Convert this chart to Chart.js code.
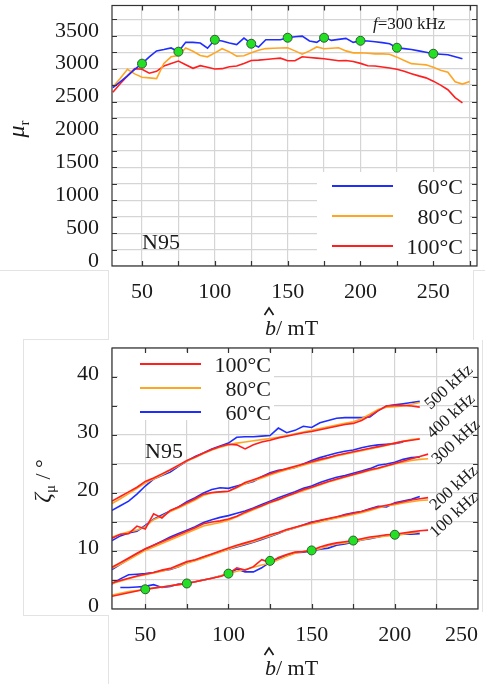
<!DOCTYPE html>
<html>
<head>
<meta charset="utf-8">
<title>N95 permeability and loss angle</title>
<script src="https://cdn.jsdelivr.net/npm/chart.js@4.4.1/dist/chart.umd.min.js"></script>
<style>
  html, body { margin: 0; padding: 0; background: #fff; }
  #page { position: relative; width: 485px; height: 684px; overflow: hidden; }
  .panel { position: absolute; left: 0; width: 485px; }
  .rule { position: absolute; background: #e3e3e3; }
</style>
</head>
<body>
<div id="page">
  <div class="panel" style="top:0;height:340px"><canvas id="muChart"></canvas></div>
  <div class="panel" style="top:340px;height:344px"><canvas id="zetaChart"></canvas></div>
  <!-- faint panel borders left over from the source figure -->
  <div class="rule" style="left:0;top:270px;width:108px;height:1px"></div>
  <div class="rule" style="left:108px;top:270px;width:1px;height:70px"></div>
  <div class="rule" style="left:473px;top:270px;width:12px;height:1px"></div>
  <div class="rule" style="left:473px;top:270px;width:1px;height:70px"></div>
  <div class="rule" style="left:23px;top:339px;width:85px;height:1px"></div>
  <div class="rule" style="left:23px;top:339px;width:1px;height:276px"></div>
  <div class="rule" style="left:23px;top:615px;width:85px;height:1px"></div>
  <div class="rule" style="left:108px;top:615px;width:1px;height:69px"></div>
  <div class="rule" style="left:482px;top:340px;width:1px;height:272px"></div>
</div>
<script>
// ---- Top panel: relative permeability vs peak flux density (f = 300 kHz)
const bTop = [30, 35, 40, 45, 50, 55, 60, 65, 70, 75, 80, 85, 90, 95, 100, 105, 110, 115, 120, 125,
              130, 135, 140, 145, 150, 155, 160, 165, 170, 175, 180, 185, 190, 195, 200, 205, 210, 215, 220, 225,
              230, 235, 240, 245, 250, 255, 260, 265, 270, 275];
const mu60 = [2710, 2800, 2890, 2990, 3076, 3180, 3270, 3290, 3315, 3258, 3400, 3400, 3390, 3310, 3439, 3420, 3390, 3365, 3465, 3380,
              3330, 3440, 3440, 3440, 3470, 3485, 3495, 3420, 3400, 3480, 3430, 3445, 3460, 3400, 3424, 3420, 3410, 3395, 3378, 3318,
              3305, 3290, 3270, 3250, 3227, 3220, 3212, 3180, 3150, null];
const mu80 = [2720, 2850, 2990, 2920, 2870, 2860, 2848, 3080, 3180, 3200, 3315, 3265, 3200, 3180, 3240, 3303, 3255, 3190, 3195, 3240,
              3280, 3305, 3310, 3315, 3318, 3270, 3220, 3270, 3330, 3303, 3310, 3318, 3270, 3240, 3242, 3235, 3225, 3225, 3220, 3175,
              3125, 3076, 3068, 3058, 3020, 2975, 2945, 2800, 2765, 2805];
const mu100 = [2640, 2770, 2890, 3000, 2990, 2930, 2960, 3040, 3080, 3115, 3060, 3005, 3045, 3020, 2995, 3000, 3030, 3040, 3080, 3125,
               3130, 3140, 3150, 3160, 3120, 3120, 3180, 3170, 3160, 3151, 3135, 3120, 3125, 3110, 3080, 3045, 3040, 3025, 3010, 2990,
               2960, 2924, 2890, 2860, 2810, 2750, 2680, 2560, 2480, null];
const muMarkB = [50, 75, 100, 125, 150, 175, 200, 225, 250];
const muMarkVal = [3076, 3258, 3439, 3379, 3470, 3470, 3424, 3318, 3227];
const muTicksB = [50, 75, 100, 125, 150, 175, 200, 225, 250, 275];
const muTicksY = [0, 250, 500, 750, 1000, 1250, 1500, 1750, 2000, 2250, 2500, 2750, 3000, 3250, 3500, 3750];

// ---- Bottom panel: loss angle vs peak flux density, five frequencies
const bBot = [30, 35, 40, 45, 50, 55, 60, 65, 70, 75, 80, 85, 90, 95, 100, 105, 110, 115, 120, 125,
              130, 135, 140, 145, 150, 155, 160, 165, 170, 175, 180, 185, 190, 195, 200, 205, 210, 215, 220];
const freqLabels = ['100 kHz', '200 kHz', '300 kHz', '400 kHz', '500 kHz'];

const z100k_100C = [2.2, 2.5, 2.8, 3.1, 3.4, 3.6, 3.8, 4.0, 4.2, 4.4, 4.7, 5.0, 5.3, 5.6, 6.1, 7.1, 6.7, 7.3, 8.5, 8.0,
                    8.9, 9.4, 9.8, 9.9, 10.1, 10.7, 11.1, 11.4, 11.6, 11.8, 12.1, 12.4, 12.6, 12.8, 12.9, 13.1, 13.3, 13.5, 13.6];
const z100k_80C  = [2.4, 2.7, 3.0, 3.2, 3.4, 3.6, 3.8, 4.0, 4.2, 4.4, 4.7, 5.0, 5.3, 5.7, 6.1, 6.5, 6.8, 7.2, 7.6, 7.9,
                    8.5, 9.1, 9.6, 9.9, 10.1, 10.4, 10.9, 11.2, 11.4, 11.6, 11.9, 12.2, 12.4, 12.6, 12.7, 12.9, 13.1, 13.3, null];
const z100k_60C  = [null, 3.7, 3.7, 3.8, 3.9, 4.2, 3.7, 3.9, 4.3, 4.4, 4.7, 5.0, 5.3, 5.7, 6.0, 6.9, 6.4, 6.4, 7.1, 8.1,
                    8.7, 9.2, 9.7, 9.8, 10.0, 10.3, 10.5, 11.0, 11.2, 11.5, 11.9, 12.1, 12.4, 12.7, 12.8, 12.9, 12.9, 13.0, null];

const z200k_100C = [4.5, 4.9, 5.3, 5.7, 6.0, 6.3, 6.7, 7.0, 7.6, 8.2, 8.5, 9.0, 9.5, 10.0, 10.5, 11.0, 11.4, 11.8, 12.3, 12.8,
                    13.2, 13.7, 14.1, 14.5, 14.9, 15.3, 15.6, 15.9, 16.2, 16.5, 16.8, 17.2, 17.6, 17.9, 18.2, 18.5, 18.8, 19.0, 19.2];
const z200k_80C  = [4.4, 4.8, 5.2, 5.6, 5.9, 6.2, 6.5, 6.9, 7.3, 7.9, 8.3, 8.8, 9.3, 9.8, 10.3, 10.8, 11.2, 11.6, 12.1, 12.6,
                    13.1, 13.6, 14.0, 14.4, 14.7, 15.0, 15.4, 15.7, 16.0, 16.3, 16.6, 17.0, 17.4, 17.8, 18.0, 18.3, 18.5, 18.7, 18.8];
const z200k_60C  = [4.3, 5.2, 5.9, 6.0, 6.1, 6.3, 6.6, 6.8, 7.3, 8.0, 8.4, 8.9, 9.4, 9.9, 10.3, 10.7, 11.1, 11.5, 12.0, 12.5,
                    13.0, 13.6, 14.0, 14.5, 15.0, 15.2, 15.5, 15.8, 16.3, 16.6, 16.8, 17.3, 17.7, 17.6, 18.3, 18.6, 18.9, 19.4, null];

const z300k_100C = [7.2, 8.0, 8.8, 9.6, 10.4, 11.0, 11.6, 12.2, 12.8, 13.4, 14.0, 14.7, 15.0, 15.2, 15.5, 16.0, 16.7, 17.3, 17.8, 18.4,
                    18.9, 19.5, 20.0, 20.6, 21.0, 21.5, 22.0, 22.4, 22.8, 23.2, 23.6, 24.0, 24.3, 24.7, 25.1, 25.5, 25.9, 26.3, 26.7];
const z300k_80C  = [7.0, 7.7, 8.5, 9.3, 10.1, 10.7, 11.3, 11.9, 12.5, 13.1, 13.7, 14.3, 14.6, 14.9, 15.3, 15.9, 16.5, 17.1, 17.7, 18.3,
                    18.8, 19.4, 19.9, 20.4, 20.9, 21.4, 21.9, 22.3, 22.7, 23.1, 23.5, 23.9, 24.2, 24.6, 25.0, 25.3, 25.6, 25.8, 25.9];
const z300k_60C  = [6.8, 7.7, 8.6, 9.5, 10.3, 11.0, 11.7, 12.4, 13.0, 13.6, 14.2, 14.9, 15.4, 15.8, 16.1, 16.5, 16.9, 17.4, 18.0, 18.6,
                    19.2, 19.7, 20.2, 20.8, 21.2, 21.8, 22.3, 22.7, 23.0, 23.4, 23.8, 24.2, 24.8, 25.0, 25.3, 25.8, 26.1, 26.2, null];

const z400k_100C = [12.2, 12.9, 13.0, 14.3, 13.8, 16.4, 15.7, 17.0, 17.6, 18.3, 19.0, 19.8, 20.1, 20.2, 20.3, 21.0, 21.8, 22.3, 22.8, 23.3,
                    23.8, 24.2, 24.6, 25.0, 25.4, 25.8, 26.1, 26.5, 26.8, 27.1, 27.4, 27.7, 28.0, 28.3, 28.6, 28.9, 29.1, 29.3, null];
const z400k_80C  = [12.4, 12.9, 13.3, 13.6, 14.2, 15.4, 16.0, 16.8, 17.4, 18.1, 18.8, 19.6, 20.0, 20.2, 20.3, 20.9, 21.6, 22.1, 22.6, 23.1,
                    23.6, 24.0, 24.4, 24.8, 25.2, 25.6, 26.0, 26.4, 26.7, 27.0, 27.3, 27.6, 27.9, 28.2, 28.6, 28.9, 29.2, 29.4, null];
const z400k_60C  = [11.8, 12.6, 13.1, 13.4, 14.4, 15.5, 16.2, 16.9, 17.6, 18.5, 19.2, 20.0, 20.6, 20.9, 20.8, 21.2, 21.6, 22.0, 22.8, 23.5,
                    23.9, 24.1, 24.4, 25.0, 25.6, 26.1, 26.5, 26.9, 27.2, 27.4, 27.8, 28.1, 28.3, 28.4, 28.5, 28.8, null, null, null];

const z500k_100C = [18.6, 19.4, 20.2, 21.0, 22.0, 22.6, 23.3, 24.0, 24.8, 25.6, 26.2, 26.9, 27.5, 28.0, 28.4, 28.3, 27.6, 28.3, 28.8, 29.1,
                    29.5, 29.8, 30.1, 30.4, 30.6, 30.9, 31.2, 31.5, 31.8, 32.0, 32.5, 33.3, 34.2, 35.0, 35.1, 35.1, 35.0, 34.8, null];
const z500k_80C  = [18.2, 19.0, 19.9, 20.8, 21.7, 22.4, 23.1, 23.9, 24.7, 25.5, 26.1, 26.8, 27.4, 27.9, 28.3, 28.6, 28.8, 29.0, 29.2, 29.4,
                    29.6, 29.9, 30.2, 30.5, 30.8, 31.1, 31.4, 31.7, 32.0, 32.3, 32.8, 33.6, 34.4, 34.8, 34.9, 35.0, 35.3, 35.6, null];
const z500k_60C  = [17.0, 17.8, 18.6, 19.8, 21.2, 22.4, 23.0, 23.6, 24.6, 25.5, 26.3, 26.9, 27.6, 28.1, 28.6, 29.6, 29.7, 29.7, 29.8, 29.9,
                    31.2, 30.4, 30.8, 31.5, 31.3, 32.1, 32.5, 32.9, 33.0, 33.0, 33.0, 33.1, 34.2, 35.0, 35.2, 35.4, 35.6, 35.8, null];

const zMarkB = [50, 75, 100, 125, 150, 175, 200];
const zMarkVal = [3.4, 4.4, 6.1, 8.3, 10.1, 11.8, 12.8];
const zTicksB = [30, 50, 75, 100, 125, 150, 175, 200, 225, 250];
const zTicksY = [0, 5, 10, 15, 20, 25, 30, 35, 40, 45];

const tempLabels = ['60°C', '80°C', '100°C'];
const tempColors = ['#1f2dff', '#ffa524', '#ff1f1f'];

// ---- styling
const SERIF = "'Liberation Serif', 'Times New Roman', serif";
const INK = '#1a1a1a';
const GRID = '#d5d5d5';
Chart.defaults.font.family = SERIF;
Chart.defaults.color = INK;

function pts(xs, ys) {
    return xs.map((x, i) => ({ x: x, y: ys[i] }));
}

function lineSet(label, color, xs, ys) {
    return {
        label: label,
        data: pts(xs, ys),
        borderColor: color,
        backgroundColor: color,
        borderWidth: 1.6,
        pointRadius: 0,
        tension: 0,
        fill: false
    };
}

function markerSet(xs, ys) {
    return {
        label: 'marker',
        data: pts(xs, ys),
        showLine: false,
        pointRadius: 4.5,
        pointBackgroundColor: '#24e024',
        pointBorderColor: '#2d5e2d',
        pointBorderWidth: 1,
        borderColor: '#24e024'
    };
}

function xScale(min, max, height, align, tickVals) {
    return {
        type: 'linear',
        min: min,
        max: max,
        afterBuildTicks: s => { s.ticks = tickVals.map(v => ({ value: v })); },
        afterFit: s => { s.height = height; s.paddingLeft = 0; s.paddingRight = 0; },
        ticks: {
            autoSkip: false, maxRotation: 0, padding: 13, align: align,
            color: INK, font: { size: 22 },
            callback: v => (v % 50 === 0 ? v : '')
        },
        grid: { color: GRID, lineWidth: 1.2, drawTicks: false },
        border: { display: false }
    };
}

function yScale(max, labelStep, offset, tickVals) {
    return {
        type: 'linear',
        min: 0,
        max: max,
        afterBuildTicks: s => { s.ticks = tickVals.map(v => ({ value: v })); },
        afterFit: s => { s.width = 112; s.paddingTop = 0; s.paddingBottom = 0; },
        ticks: {
            autoSkip: false, padding: 13, labelOffset: offset,
            color: INK, font: { size: 22 },
            callback: v => (v % labelStep === 0 ? v : '')
        },
        grid: { color: GRID, lineWidth: 1.2, drawTicks: false },
        border: { display: false }
    };
}

// text made of runs with mixed italics / subscripts
function drawRuns(ctx, runs, x, y, align) {
    const fonts = runs.map(r => (r.italic ? 'italic ' : '') + r.size + 'px ' + SERIF);
    let w = 0;
    runs.forEach((r, i) => { ctx.font = fonts[i]; w += ctx.measureText(r.t).width; });
    let cx = align === 'center' ? x - w / 2 : (align === 'right' ? x - w : x);
    runs.forEach((r, i) => {
        ctx.font = fonts[i];
        ctx.fillText(r.t, cx, y + (r.dy || 0));
        cx += ctx.measureText(r.t).width;
    });
}

const decoPlugin = {
    id: 'deco',
    beforeDatasetsDraw(chart, args, o) {
        const b = o.legendBox, ctx = chart.ctx;
        ctx.save();
        ctx.fillStyle = '#fff';
        ctx.fillRect(b.x, b.y, b.w, b.h);
        ctx.restore();
    },
    afterDraw(chart, args, o) {
        const ctx = chart.ctx, a = chart.chartArea, x = chart.scales.x, y = chart.scales.y;
        ctx.save();

        // frame and inward tick marks
        ctx.strokeStyle = '#333';
        ctx.lineWidth = 1.2;
        ctx.beginPath();
        x.ticks.forEach(t => {
            const px = Math.round(x.getPixelForValue(t.value)) + 0.5;
            if (px < a.left + 2 || px > a.right - 2) return;
            ctx.moveTo(px, a.bottom); ctx.lineTo(px, a.bottom - 5);
            ctx.moveTo(px, a.top); ctx.lineTo(px, a.top + 5);
        });
        y.ticks.forEach(t => {
            const py = Math.round(y.getPixelForValue(t.value)) + 0.5;
            if (py < a.top + 2 || py > a.bottom - 2) return;
            ctx.moveTo(a.left, py); ctx.lineTo(a.left + 5, py);
            ctx.moveTo(a.right, py); ctx.lineTo(a.right - 5, py);
        });
        ctx.stroke();
        ctx.strokeRect(a.left, a.top, a.right - a.left, a.bottom - a.top);

        // legend
        const lg = o.legend;
        ctx.textBaseline = 'alphabetic';
        ctx.fillStyle = INK;
        lg.order.forEach((k, i) => {
            const ry = lg.rows[i];
            ctx.strokeStyle = tempColors[k];
            ctx.lineWidth = 2;
            ctx.beginPath();
            ctx.moveTo(lg.x0, ry); ctx.lineTo(lg.x1, ry);
            ctx.stroke();
            drawRuns(ctx, [{ t: tempLabels[k], size: 22 }], lg.right, ry + 8, 'right');
        });

        // plain annotations
        o.texts.forEach(tx => drawRuns(ctx, tx.runs, tx.x, tx.y, tx.align || 'left'));

        // rotated annotations
        o.rotated.forEach(tx => {
            ctx.save();
            ctx.translate(tx.x, tx.y);
            ctx.rotate(tx.angle * Math.PI / 180);
            drawRuns(ctx, tx.runs, 0, tx.base || 0, 'center');
            ctx.restore();
        });

        // circumflex over b
        ctx.strokeStyle = INK;
        ctx.lineWidth = 1.7;
        ctx.beginPath();
        ctx.moveTo(o.hat.x - 4.5, o.hat.y + 7);
        ctx.lineTo(o.hat.x, o.hat.y);
        ctx.lineTo(o.hat.x + 4.5, o.hat.y + 7);
        ctx.stroke();
        ctx.restore();
    }
};

const bTitle = [{ t: 'b', italic: true, size: 22 }, { t: '/ mT', size: 22 }];

// ---- top chart
new Chart(document.getElementById('muChart'), {
    type: 'line',
    data: {
        datasets: [
            markerSet(muMarkB, muMarkVal),
            lineSet(tempLabels[0], tempColors[0], bTop, mu60),
            lineSet(tempLabels[1], tempColors[1], bTop, mu80),
            lineSet(tempLabels[2], tempColors[2], bTop, mu100)
        ]
    },
    options: {
        responsive: true,
        maintainAspectRatio: false,
        animation: false,
        layout: { padding: { top: 5, right: 8, left: 0, bottom: 0 } },
        scales: {
            x: xScale(29.4, 280, 74, 'center', muTicksB),
            y: yScale(3960, 500, -5, muTicksY)
        },
        plugins: {
            legend: { display: false },
            tooltip: { enabled: false },
            deco: {
                legendBox: { x: 317, y: 172, w: 152, h: 93 },
                legend: { order: [0, 1, 2], x0: 332, x1: 393, right: 463, rows: [186, 216, 246] },
                texts: [
                    { runs: [{ t: 'N95', size: 22 }], x: 142, y: 249 },
                    { runs: [{ t: 'f', italic: true, size: 17 }, { t: '=300 kHz', size: 17 }], x: 373, y: 29 },
                    { runs: bTitle, x: 265, y: 335 }
                ],
                rotated: [
                    { runs: [{ t: 'μ', italic: true, size: 24 }, { t: 'r', size: 15, dy: 5 }], x: 24, y: 129, angle: -90 }
                ],
                hat: { x: 269, y: 308 }
            }
        }
    },
    plugins: [decoPlugin]
});

// ---- bottom chart
const zSeries = [
    [z100k_100C, z100k_80C, z100k_60C],
    [z200k_100C, z200k_80C, z200k_60C],
    [z300k_100C, z300k_80C, z300k_60C],
    [z400k_100C, z400k_80C, z400k_60C],
    [z500k_100C, z500k_80C, z500k_60C]
];
const zDatasets = [markerSet(zMarkB, zMarkVal)];
[2, 1, 0].forEach((k, j) => {
    zSeries.forEach((group, f) => {
        zDatasets.push(lineSet(freqLabels[f] + ' ' + tempLabels[k], tempColors[k], bBot, group[j]));
    });
});

// centres of the rotated frequency labels, in canvas pixels
const freqLabelPos = [[453, 174], [453, 147], [455, 101], [450, 75], [448, 46]];

new Chart(document.getElementById('zetaChart'), {
    type: 'line',
    data: { datasets: zDatasets },
    options: {
        responsive: true,
        maintainAspectRatio: false,
        animation: false,
        layout: { padding: { top: 8, right: 7, left: 0, bottom: 0 } },
        scales: {
            x: xScale(30, 250, 75, 'inner', zTicksB),
            y: yScale(45, 10, -3, zTicksY)
        },
        plugins: {
            legend: { display: false },
            tooltip: { enabled: false },
            deco: {
                legendBox: { x: 118, y: 12, w: 156, h: 68 },
                legend: { order: [2, 1, 0], x0: 140, x1: 201, right: 271, rows: [24, 48, 72] },
                texts: [
                    { runs: [{ t: 'N95', size: 22 }], x: 145, y: 118 },
                    { runs: bTitle, x: 265, y: 335 }
                ],
                rotated: [
                    { runs: [{ t: 'ζ', italic: true, size: 24 }, { t: 'μ', size: 15, dy: 5 }, { t: ' / °', size: 22 }], x: 50, y: 141, angle: -90 }
                ].concat(freqLabels.map((t, i) => ({
                    runs: [{ t: t, size: 17 }], x: freqLabelPos[i][0], y: freqLabelPos[i][1], angle: -42, base: 6
                }))),
                hat: { x: 269, y: 308 }
            }
        }
    },
    plugins: [decoPlugin]
});
</script>
</body>
</html>
